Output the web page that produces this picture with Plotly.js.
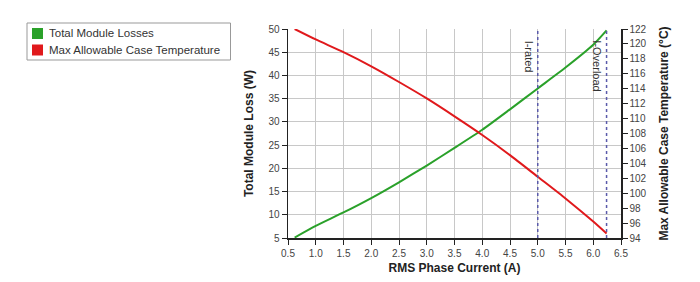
<!DOCTYPE html>
<html>
<head>
<meta charset="utf-8">
<script src="https://cdn.plot.ly/plotly-3.0.1.min.js"></script>
<style>html,body{margin:0;padding:0;background:#fff;}#chart{width:700px;height:282px;}</style>
</head>
<body>
<div id="chart"></div>
<script>
// Data
const currentLoss = [0.62, 1.0, 1.5, 2.0, 2.5, 3.0, 3.5, 4.0, 4.5, 5.0, 5.5, 6.0, 6.24];
const moduleLoss  = [5.1, 7.6, 10.5, 13.6, 17.0, 20.6, 24.4, 28.3, 32.7, 37.2, 41.7, 46.6, 49.7];
const currentTemp = [0.62, 1.0, 1.5, 2.0, 2.5, 3.0, 3.5, 4.0, 4.5, 5.0, 5.5, 6.0, 6.24];
const caseTemp    = [122.0, 120.6, 118.9, 117.0, 114.9, 112.7, 110.3, 107.8, 105.1, 102.2, 99.3, 96.2, 94.6];
const markerX     = [5.0, 6.24];
const markerText  = ["I-rated", "I-Overload"];
const seriesNames = ["Total Module Losses", "Max Allowable Case Temperature"];
const seriesColors = ["#2aa12a", "#e0191c"];

const FONT = "Liberation Sans, Arial, sans-serif";

const traces = [
  {x: currentLoss, y: moduleLoss, mode: "lines", name: seriesNames[0], line: {color: seriesColors[0], width: 2, shape: "spline", smoothing: 0.6}, showlegend: false},
  {x: currentTemp, y: caseTemp, yaxis: "y2", mode: "lines", name: seriesNames[1], line: {color: seriesColors[1], width: 2, shape: "spline", smoothing: 0.6}, showlegend: false}
];

// pixel -> paper helpers for the fixed plot area (l=288, r=621, t=29, b=238)
const px = v => (v - 288) / 333;
const py = v => (238 - v) / 209;

const shapes = markerX.map(v => ({
  type: "line", xref: "x", yref: "paper", x0: v, x1: v, y0: 0, y1: 1,
  line: {color: "#5a5aaa", width: 1.5, dash: "dot"}
}));
// manual legend (box + swatches)
shapes.push({type: "rect", xref: "paper", yref: "paper", x0: px(27), x1: px(230.5), y0: py(60), y1: py(23),
  line: {color: "#999", width: 1}, fillcolor: "rgba(0,0,0,0)"});
const rowY = [33.5, 50];
seriesColors.forEach((c, i) => {
  shapes.push({type: "rect", xref: "paper", yref: "paper", x0: px(32), x1: px(43),
    y0: py(rowY[i] + 5.5), y1: py(rowY[i] - 5.5), line: {width: 0}, fillcolor: c});
});

const annotations = markerX.map((v, i) => ({
  x: v, y: 0.955, xref: "x", yref: "paper", text: markerText[i], textangle: 90,
  showarrow: false, xanchor: "right", yanchor: "top", xshift: -1,
  font: {family: FONT, size: 11, color: "#333"}
}));
seriesNames.forEach((n, i) => {
  annotations.push({x: px(47), y: py(rowY[i]), xref: "paper", yref: "paper", text: n,
    showarrow: false, xanchor: "left", yanchor: "middle",
    font: {family: FONT, size: 11.5, color: "#333"}});
});

const layout = {
  width: 700, height: 282,
  margin: {l: 288, r: 79, t: 29, b: 44},
  paper_bgcolor: "#fff", plot_bgcolor: "#fff",
  font: {family: FONT, size: 10, color: "#444"},
  showlegend: false,
  xaxis: {
    range: [0.5, 6.5], dtick: 0.5, tick0: 0.5, tickformat: ".1f",
    showgrid: true, gridcolor: "#c8c8c8", gridwidth: 1,
    showline: true, linecolor: "#222", linewidth: 1.5,
    ticks: "outside", ticklen: 5, tickcolor: "#222", zeroline: false,
    title: {text: "<b>RMS Phase Current (A)</b>", font: {family: FONT, size: 12, color: "#222"}, standoff: 6}
  },
  yaxis: {
    range: [5, 50], dtick: 5, tick0: 5,
    showgrid: true, gridcolor: "#c8c8c8", gridwidth: 1,
    showline: true, linecolor: "#222", linewidth: 1.5,
    ticks: "outside", ticklen: 5, tickcolor: "#222", zeroline: false,
    title: {text: "<b>Total Module Loss (W)</b>", font: {family: FONT, size: 12, color: "#222"}, standoff: 12}
  },
  yaxis2: {
    overlaying: "y", side: "right", range: [94, 122], dtick: 2, tick0: 94,
    showgrid: false, showline: true, linecolor: "#222", linewidth: 1.5,
    ticks: "outside", ticklen: 5, tickcolor: "#222", zeroline: false,
    title: {text: "<b>Max Allowable Case Temperature (°C)</b>", font: {family: FONT, size: 12, color: "#222"}, standoff: 14}
  },
  shapes: shapes,
  annotations: annotations
};

Plotly.newPlot("chart", traces, layout, {displayModeBar: false, staticPlot: true});
</script>
</body>
</html>
